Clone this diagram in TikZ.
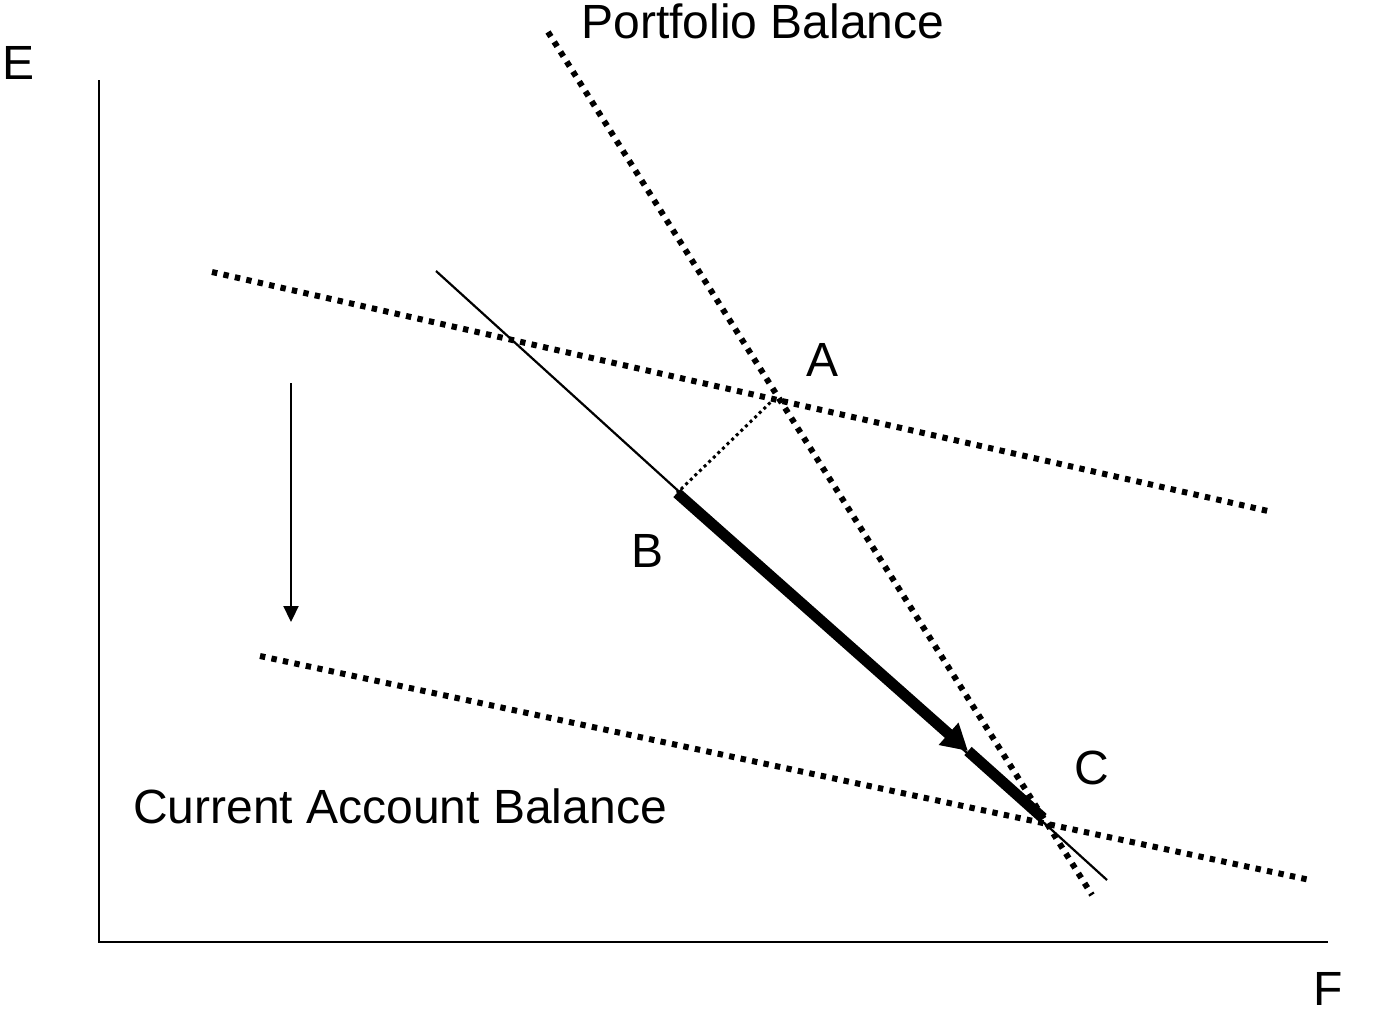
\documentclass[tikz,border=0pt]{standalone}
\usepackage{fontspec}
\setmainfont{Liberation Sans}
\usetikzlibrary{arrows.meta}
\begin{document}
\begin{tikzpicture}[x=1pt,y=-1pt,
  lbl/.style={font=\fontsize{48}{52}\selectfont, anchor=base, inner sep=0pt, text depth=0pt},
  axis/.style={line width=2pt},
  bigdots/.style={line width=6pt, dash pattern=on 5.4pt off 6.3pt},
  thin/.style={line width=2.2pt},
  smalldots/.style={line width=3pt, dash pattern=on 3pt off 3.4pt},
  move/.style={line width=11pt}]
\useasboundingbox (0,0) rectangle (1380,1013);
% axes
\coordinate (origin) at (99,942);
\coordinate (ytop) at (99,80);
\coordinate (xend) at (1328,942);
\draw[axis] (ytop) -- (origin) -- (xend);
\node[lbl] (E) at (19,79) {E};
\node[lbl] (F) at (1328,1005) {F};
% portfolio balance
\coordinate (pb1) at (548,32);
\coordinate (pb2) at (1092,895);
\draw[bigdots] (pb1) -- (pb2);
\node[lbl] (pbl) at (763,38) {Portfolio Balance};
% current account lines
\coordinate (ca1a) at (212,272);
\coordinate (ca1b) at (1268,511);
\draw[bigdots] (ca1a) -- (ca1b);
\coordinate (ca2a) at (260,656);
\coordinate (ca2b) at (1310,880);
\draw[bigdots] (ca2a) -- (ca2b);
\node[lbl] (cal) at (400,823) {Current Account Balance};
% thin solid line
\coordinate (t1) at (436,271);
\coordinate (t2) at (1107,880);
\draw[thin] (t1) -- (t2);
% points
\coordinate (pA) at (775,398);
\coordinate (pB) at (677,493);
\coordinate (pC) at (1043,818);
\coordinate (pM) at (968,751);
\draw[smalldots] (pA) -- (pB);
\draw[move, -{Triangle[length=26pt,width=28pt]}] (pB) -- (pM);
\draw[move] (pM) -- (pC);
\node[lbl] (A) at (822,376) {A};
\node[lbl] (B) at (647,567) {B};
\node[lbl] (C) at (1092,784) {C};
% shift arrow
\coordinate (s1) at (291,383);
\coordinate (s2) at (291,622);
\draw[thin, -{Triangle[length=16pt,width=15pt]}] (s1) -- (s2);
\end{tikzpicture}
\end{document}
